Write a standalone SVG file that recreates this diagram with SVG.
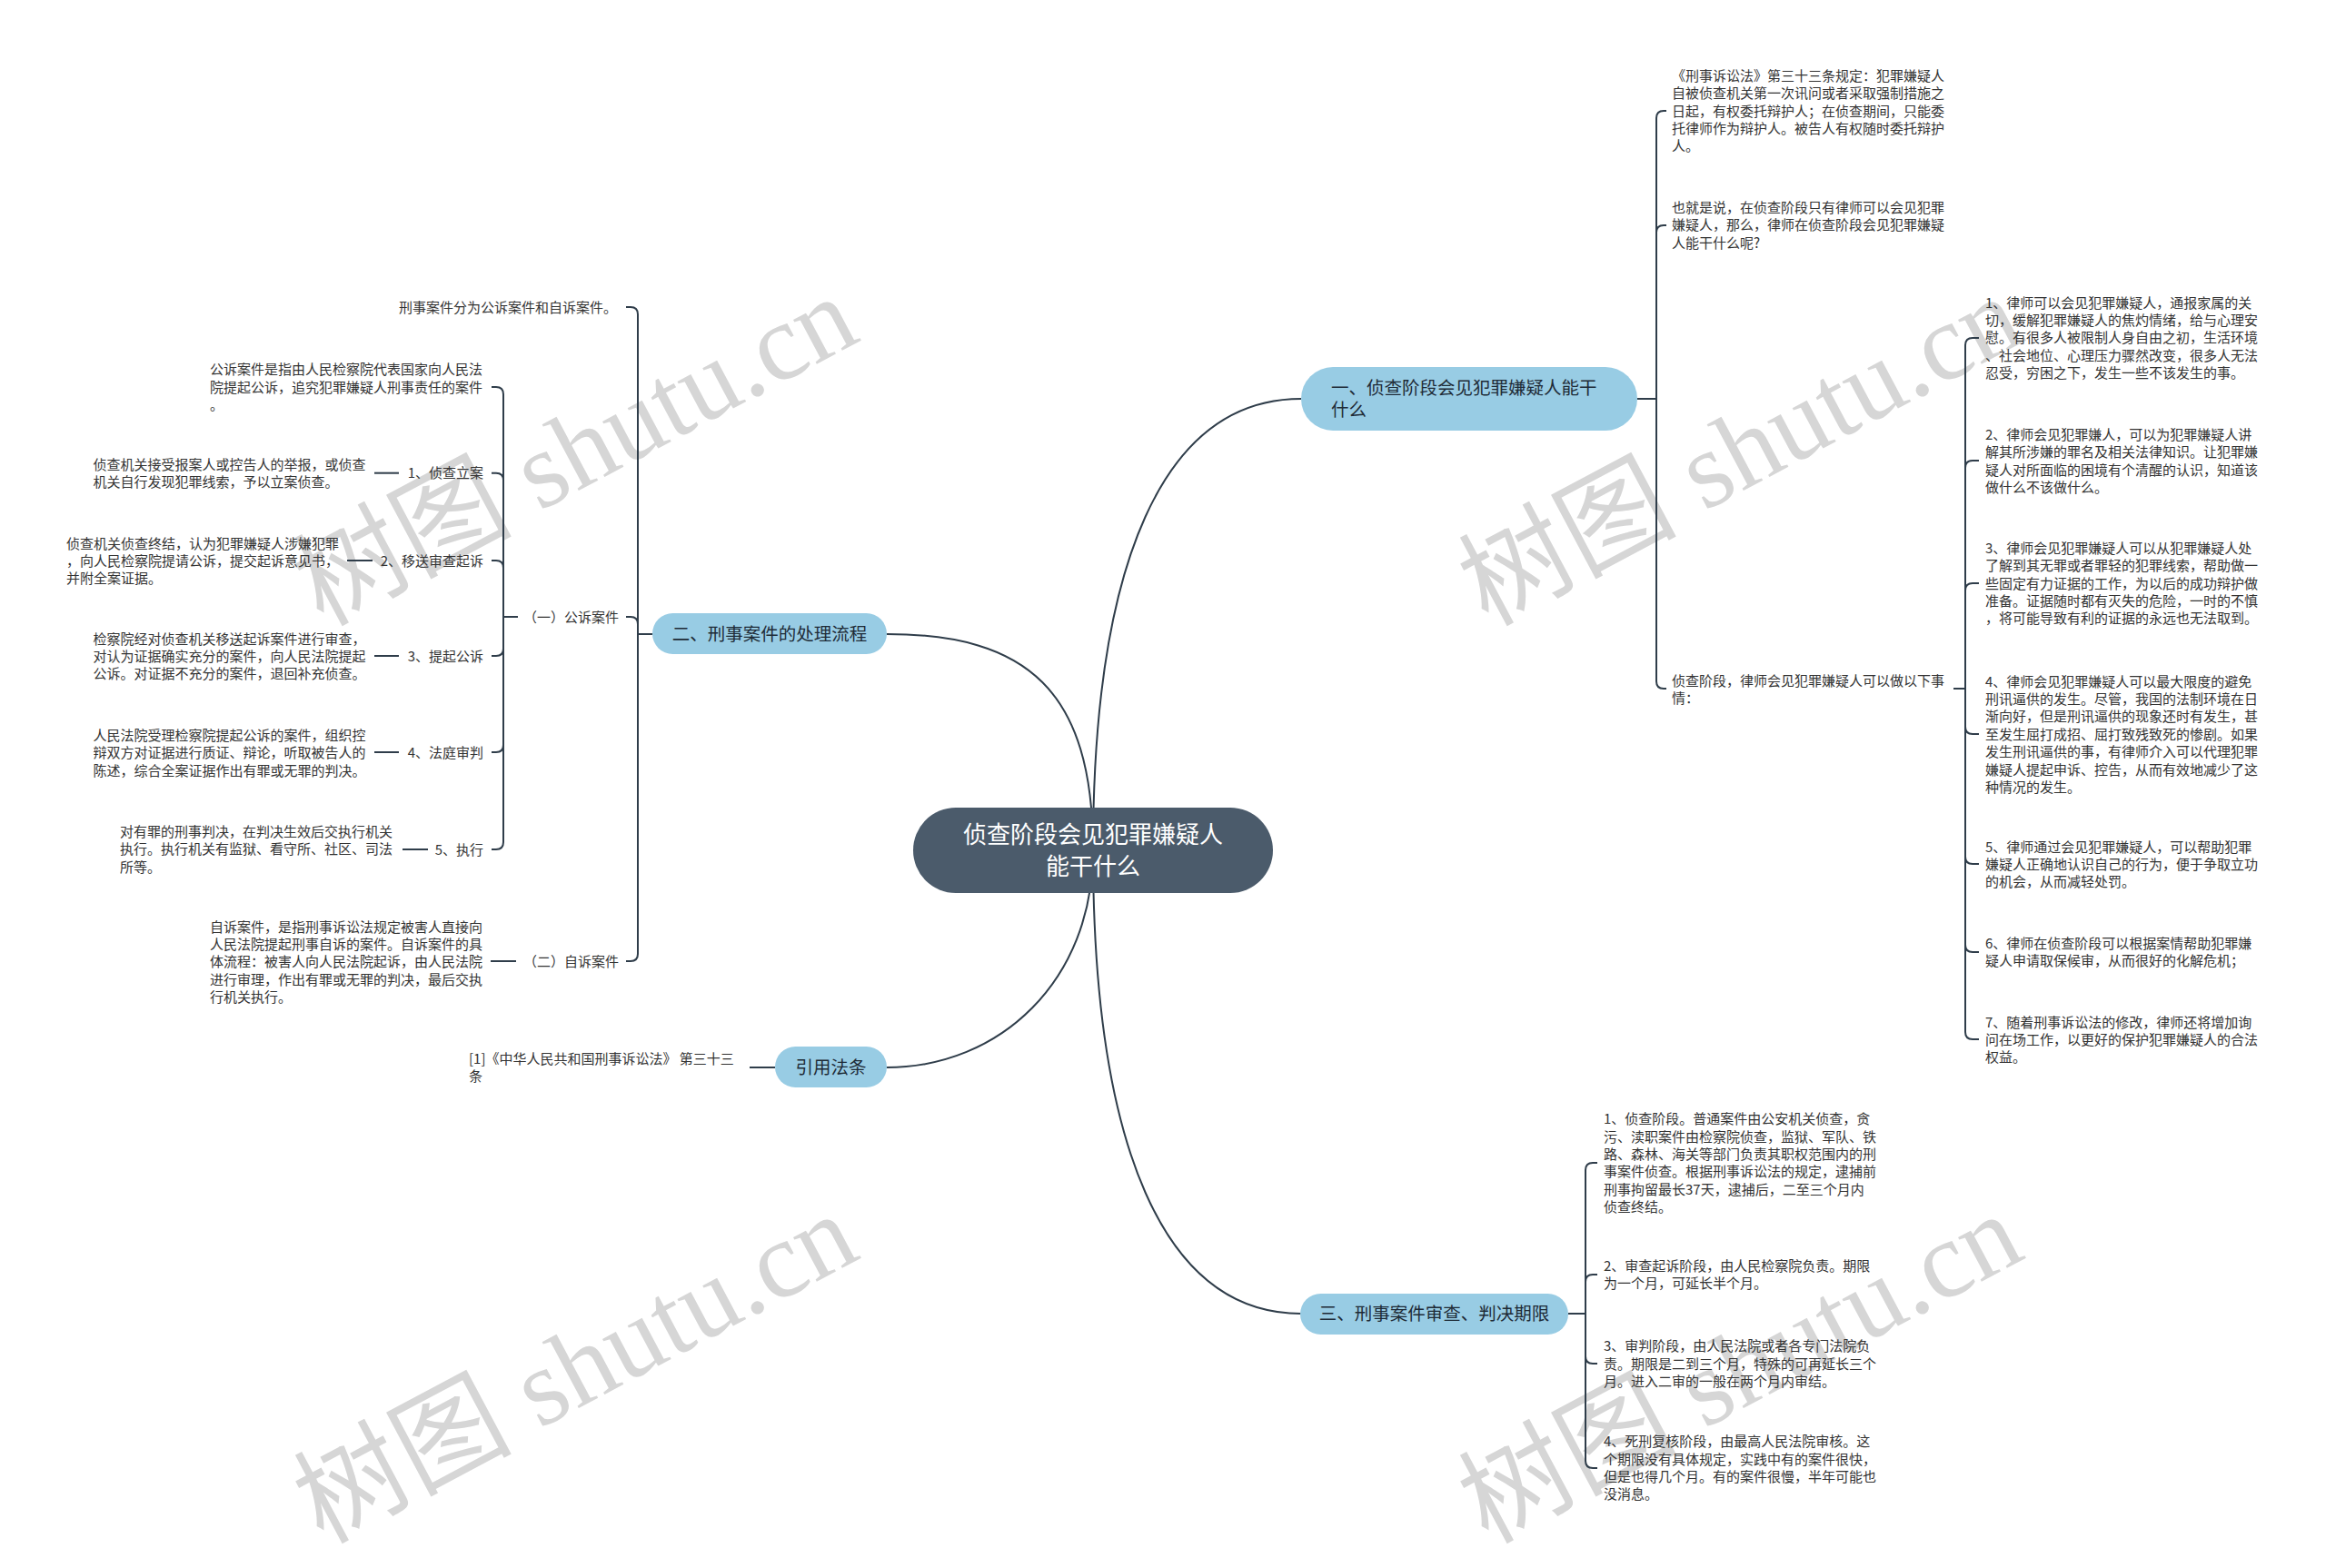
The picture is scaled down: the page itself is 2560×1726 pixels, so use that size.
<svg xmlns="http://www.w3.org/2000/svg" width="2560" height="1726" viewBox="0 0 2560 1726">
<style>
.t{font-family:"Noto Sans CJK SC","Liberation Sans",sans-serif;font-size:15px;fill:#333}
.n{font-family:"Noto Sans CJK SC","Liberation Sans",sans-serif;font-size:19.5px;fill:#1e2b37}
.c{font-family:"Noto Sans CJK SC","Liberation Sans",sans-serif;font-size:26px;fill:#fff}
.ln{fill:none;stroke:#2f3d4a;stroke-width:2}
.wm{font-family:"Liberation Serif","Noto Sans CJK SC",serif;font-size:120px;fill:#d6d6d6}
.bn{fill:#98cce4}
.cn{fill:#4b5b6b}
</style>
<rect width="2560" height="1726" fill="#fff"/>
<g id="watermark">
<text class="wm" x="355" y="690" transform="rotate(-28 355 690)">树图 shutu.cn</text>
<text class="wm" x="1637" y="690" transform="rotate(-28 1637 690)">树图 shutu.cn</text>
<text class="wm" x="355" y="1700" transform="rotate(-28 355 1700)">树图 shutu.cn</text>
<text class="wm" x="1637" y="1700" transform="rotate(-28 1637 1700)">树图 shutu.cn</text>
</g>
<g id="connectors" class="ln">
<path d="M1203 936 C1203 620 1280 439 1432 439"/>
<path d="M976 698 C1130 698 1203 760 1203 936"/>
<path d="M976 1175 C1100 1175 1203 1080 1203 936"/>
<path d="M1203 936 C1203 1260 1280 1446 1432 1446"/>
<path d="M1802 439 H1823"/>
<path d="M1823 439 V130 Q1823 122 1831 122 H1834"/>
<path d="M1823 439 V256 Q1823 248 1831 248 H1834"/>
<path d="M1823 439 V750 Q1823 758 1831 758 H1834"/>
<path d="M2150 758 H2163"/>
<path d="M2163 758 V380 Q2163 372 2171 372 H2178"/>
<path d="M2163 758 V515 Q2163 507 2171 507 H2178"/>
<path d="M2163 758 V650 Q2163 642 2171 642 H2178"/>
<path d="M2163 758 V800 Q2163 808 2171 808 H2178"/>
<path d="M2163 758 V943 Q2163 951 2171 951 H2178"/>
<path d="M2163 758 V1040 Q2163 1048 2171 1048 H2178"/>
<path d="M2163 758 V1136 Q2163 1144 2171 1144 H2178"/>
<path d="M1726 1446 H1745"/>
<path d="M1745 1446 V1288 Q1745 1280 1753 1280 H1758"/>
<path d="M1745 1446 V1411 Q1745 1403 1753 1403 H1758"/>
<path d="M1745 1446 V1493 Q1745 1501 1753 1501 H1758"/>
<path d="M1745 1446 V1608 Q1745 1616 1753 1616 H1758"/>
<path d="M718 698 H702"/>
<path d="M702 698 V346 Q702 338 694 338 H689"/>
<path d="M702 698 V687 Q702 679 694 679 H689"/>
<path d="M702 698 V1050 Q702 1058 694 1058 H689"/>
<path d="M570 679 H554"/>
<path d="M554 679 V434 Q554 426 546 426 H541"/>
<path d="M554 679 V528.7 Q554 520.7 546 520.7 H541"/>
<path d="M554 679 V625 Q554 617 546 617 H541"/>
<path d="M554 679 V714 Q554 722 546 722 H541"/>
<path d="M554 679 V820 Q554 828 546 828 H541"/>
<path d="M554 679 V927 Q554 935 546 935 H541"/>
<path d="M412 520.7 H439"/>
<path d="M382 617 H410"/>
<path d="M412 722 H439"/>
<path d="M412 828 H439"/>
<path d="M443 935 H471"/>
<path d="M540 1058 H568"/>
<path d="M825 1175 H853"/>
</g>
<g id="center">
<rect class="cn" x="1005" y="889" width="396" height="94" rx="47"/>
<text class="c" text-anchor="middle" x="1203" y="927.5">侦查阶段会见犯罪嫌疑人<tspan x="1203" dy="35.5">能干什么</tspan></text>
</g>
<g id="branch1">
<rect class="bn" x="1432" y="404" width="370" height="70" rx="35"/>
<text class="n" x="1465" y="433.7">一、侦查阶段会见犯罪嫌疑人能干<tspan x="1465" dy="24.5">什么</tspan></text>
</g>
<g id="branch2">
<rect class="bn" x="718" y="675" width="258" height="45" rx="22.5"/>
<text class="n" text-anchor="middle" x="847" y="705">二、刑事案件的处理流程</text>
</g>
<g id="branch3">
<rect class="bn" x="853" y="1152" width="123" height="45" rx="22.5"/>
<text class="n" text-anchor="middle" x="914.5" y="1182">引用法条</text>
</g>
<g id="branch4">
<rect class="bn" x="1431" y="1424" width="295" height="45" rx="22.5"/>
<text class="n" text-anchor="middle" x="1578.5" y="1453">三、刑事案件审查、判决期限</text>
</g>
<g id="b1-law">
<text class="t" x="1840" y="88.8">《刑事诉讼法》第三十三条规定：犯罪嫌疑人<tspan x="1840" dy="19.4">自被侦查机关第一次讯问或者采取强制措施之</tspan><tspan x="1840" dy="19.4">日起，有权委托辩护人；在侦查期间，只能委</tspan><tspan x="1840" dy="19.4">托律师作为辩护人。被告人有权随时委托辩护</tspan><tspan x="1840" dy="19.4">人。</tspan></text>
</g>
<g id="b1-question">
<text class="t" x="1840" y="233.8">也就是说，在侦查阶段只有律师可以会见犯罪<tspan x="1840" dy="19.4">嫌疑人，那么，律师在侦查阶段会见犯罪嫌疑</tspan><tspan x="1840" dy="19.4">人能干什么呢?</tspan></text>
</g>
<g id="b1-list">
<text class="t" x="1840" y="754.5">侦查阶段，律师会见犯罪嫌疑人可以做以下事<tspan x="1840" dy="19.4">情：</tspan></text>
</g>
<g id="item1">
<text class="t" x="2185" y="338.5">1、律师可以会见犯罪嫌疑人，通报家属的关<tspan x="2185" dy="19.4">切，缓解犯罪嫌疑人的焦灼情绪，给与心理安</tspan><tspan x="2185" dy="19.4">慰。有很多人被限制人身自由之初，生活环境</tspan><tspan x="2185" dy="19.4">、社会地位、心理压力骤然改变，很多人无法</tspan><tspan x="2185" dy="19.4">忍受，穷困之下，发生一些不该发生的事。</tspan></text>
</g>
<g id="item2">
<text class="t" x="2185" y="483.8">2、律师会见犯罪嫌人，可以为犯罪嫌疑人讲<tspan x="2185" dy="19.4">解其所涉嫌的罪名及相关法律知识。让犯罪嫌</tspan><tspan x="2185" dy="19.4">疑人对所面临的困境有个清醒的认识，知道该</tspan><tspan x="2185" dy="19.4">做什么不该做什么。</tspan></text>
</g>
<g id="item3">
<text class="t" x="2185" y="608.8">3、律师会见犯罪嫌疑人可以从犯罪嫌疑人处<tspan x="2185" dy="19.4">了解到其无罪或者罪轻的犯罪线索，帮助做一</tspan><tspan x="2185" dy="19.4">些固定有力证据的工作，为以后的成功辩护做</tspan><tspan x="2185" dy="19.4">准备。证据随时都有灭失的危险，一时的不慎</tspan><tspan x="2185" dy="19.4">，将可能导致有利的证据的永远也无法取到。</tspan></text>
</g>
<g id="item4">
<text class="t" x="2185" y="755.5">4、律师会见犯罪嫌疑人可以最大限度的避免<tspan x="2185" dy="19.4">刑讯逼供的发生。尽管，我国的法制环境在日</tspan><tspan x="2185" dy="19.4">渐向好，但是刑讯逼供的现象还时有发生，甚</tspan><tspan x="2185" dy="19.4">至发生屈打成招、屈打致残致死的惨剧。如果</tspan><tspan x="2185" dy="19.4">发生刑讯逼供的事，有律师介入可以代理犯罪</tspan><tspan x="2185" dy="19.4">嫌疑人提起申诉、控告，从而有效地减少了这</tspan><tspan x="2185" dy="19.4">种情况的发生。</tspan></text>
</g>
<g id="item5">
<text class="t" x="2185" y="937.5">5、律师通过会见犯罪嫌疑人，可以帮助犯罪<tspan x="2185" dy="19.4">嫌疑人正确地认识自己的行为，便于争取立功</tspan><tspan x="2185" dy="19.4">的机会，从而减轻处罚。</tspan></text>
</g>
<g id="item6">
<text class="t" x="2185" y="1043.5">6、律师在侦查阶段可以根据案情帮助犯罪嫌<tspan x="2185" dy="19.4">疑人申请取保候审，从而很好的化解危机；</tspan></text>
</g>
<g id="item7">
<text class="t" x="2185" y="1130.5">7、随着刑事诉讼法的修改，律师还将增加询<tspan x="2185" dy="19.4">问在场工作，以更好的保护犯罪嫌疑人的合法</tspan><tspan x="2185" dy="19.4">权益。</tspan></text>
</g>
<g id="stage1">
<text class="t" x="1765" y="1237.2">1、侦查阶段。普通案件由公安机关侦查，贪<tspan x="1765" dy="19.4">污、渎职案件由检察院侦查，监狱、军队、铁</tspan><tspan x="1765" dy="19.4">路、森林、海关等部门负责其职权范围内的刑</tspan><tspan x="1765" dy="19.4">事案件侦查。根据刑事诉讼法的规定，逮捕前</tspan><tspan x="1765" dy="19.4">刑事拘留最长37天，逮捕后，二至三个月内</tspan><tspan x="1765" dy="19.4">侦查终结。</tspan></text>
</g>
<g id="stage2">
<text class="t" x="1765" y="1398.8">2、审查起诉阶段，由人民检察院负责。期限<tspan x="1765" dy="19.4">为一个月，可延长半个月。</tspan></text>
</g>
<g id="stage3">
<text class="t" x="1765" y="1487.2">3、审判阶段，由人民法院或者各专门法院负<tspan x="1765" dy="19.4">责。期限是二到三个月，特殊的可再延长三个</tspan><tspan x="1765" dy="19.4">月。进入二审的一般在两个月内审结。</tspan></text>
</g>
<g id="stage4">
<text class="t" x="1765" y="1592.2">4、死刑复核阶段，由最高人民法院审核。这<tspan x="1765" dy="19.4">个期限没有具体规定，实践中有的案件很快，</tspan><tspan x="1765" dy="19.4">但是也得几个月。有的案件很慢，半年可能也</tspan><tspan x="1765" dy="19.4">没消息。</tspan></text>
</g>
<g id="types">
<text class="t" x="439" y="343.5">刑事案件分为公诉案件和自诉案件。</text>
</g>
<g id="public">
<text class="t" x="576" y="684.5">（一）公诉案件</text>
</g>
<g id="public-def">
<text class="t" x="231" y="412.2">公诉案件是指由人民检察院代表国家向人民法<tspan x="231" dy="19.4">院提起公诉，追究犯罪嫌疑人刑事责任的案件</tspan><tspan x="231" dy="19.4">。</tspan></text>
</g>
<g id="step1">
<text class="t" text-anchor="end" x="532" y="526.2">1、侦查立案</text>
<text class="t" x="102.6" y="516.5">侦查机关接受报案人或控告人的举报，或侦查<tspan x="102.6" dy="19.4">机关自行发现犯罪线索，予以立案侦查。</tspan></text>
</g>
<g id="step2">
<text class="t" text-anchor="end" x="532" y="622.5">2、移送审查起诉</text>
<text class="t" x="73" y="603.5">侦查机关侦查终结，认为犯罪嫌疑人涉嫌犯罪<tspan x="73" dy="19.4">，向人民检察院提请公诉，提交起诉意见书，</tspan><tspan x="73" dy="19.4">并附全案证据。</tspan></text>
</g>
<g id="step3">
<text class="t" text-anchor="end" x="532" y="727.5">3、提起公诉</text>
<text class="t" x="102.6" y="708.5">检察院经对侦查机关移送起诉案件进行审查，<tspan x="102.6" dy="19.4">对认为证据确实充分的案件，向人民法院提起</tspan><tspan x="102.6" dy="19.4">公诉。对证据不充分的案件，退回补充侦查。</tspan></text>
</g>
<g id="step4">
<text class="t" text-anchor="end" x="532" y="833.5">4、法庭审判</text>
<text class="t" x="102.6" y="815">人民法院受理检察院提起公诉的案件，组织控<tspan x="102.6" dy="19.4">辩双方对证据进行质证、辩论，听取被告人的</tspan><tspan x="102.6" dy="19.4">陈述，综合全案证据作出有罪或无罪的判决。</tspan></text>
</g>
<g id="step5">
<text class="t" text-anchor="end" x="532" y="940.5">5、执行</text>
<text class="t" x="132" y="921">对有罪的刑事判决，在判决生效后交执行机关<tspan x="132" dy="19.4">执行。执行机关有监狱、看守所、社区、司法</tspan><tspan x="132" dy="19.4">所等。</tspan></text>
</g>
<g id="private">
<text class="t" x="576" y="1063.5">（二）自诉案件</text>
<text class="t" x="231" y="1025.5">自诉案件，是指刑事诉讼法规定被害人直接向<tspan x="231" dy="19.4">人民法院提起刑事自诉的案件。自诉案件的具</tspan><tspan x="231" dy="19.4">体流程：被害人向人民法院起诉，由人民法院</tspan><tspan x="231" dy="19.4">进行审理，作出有罪或无罪的判决，最后交执</tspan><tspan x="231" dy="19.4">行机关执行。</tspan></text>
</g>
<g id="citation">
<text class="t" x="516" y="1170.5">[1]《中华人民共和国刑事诉讼法》 第三十三<tspan x="516" dy="19.4">条</tspan></text>
</g>
</svg>
